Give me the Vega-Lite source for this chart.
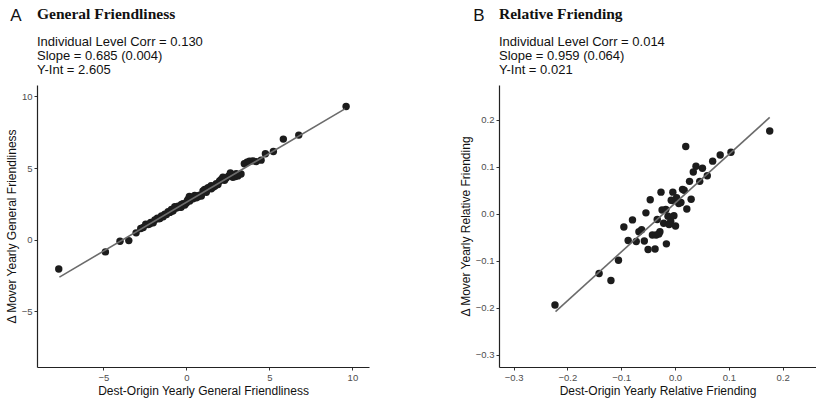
{
  "$schema": "https://vega.github.io/schema/vega-lite/v6.json",
  "padding": {"left": 5, "right": 0, "top": 6, "bottom": 2},
  "background": "white",
  "config": {
    "font": "Liberation Sans",
    "view": {"stroke": null},
    "concat": {"spacing": 90},
    "axis": {
      "grid": false,
      "domainColor": "#222222",
      "domainWidth": 1.2,
      "tickColor": "#333333",
      "tickSize": 3,
      "labelColor": "#4d4d4d",
      "labelFontSize": 9.5,
      "labelPadding": 2,
      "titleFontSize": 12,
      "titleFontWeight": "normal",
      "titleColor": "#111111"
    }
  },
  "datasets": {
    "gf": [
      {"x": -7.69, "y": -2.05}, {"x": -4.88, "y": -0.86}, {"x": -4.0, "y": -0.12}, {"x": -3.47, "y": -0.07},
      {"x": -3.03, "y": 0.47}, {"x": -2.75, "y": 0.78}, {"x": -2.6, "y": 0.85}, {"x": -2.45, "y": 1.08},
      {"x": -2.3, "y": 1.05}, {"x": -2.2, "y": 1.1}, {"x": -2.15, "y": 1.2}, {"x": -2.0, "y": 1.18},
      {"x": -1.9, "y": 1.38}, {"x": -1.75, "y": 1.5}, {"x": -1.65, "y": 1.45}, {"x": -1.6, "y": 1.48},
      {"x": -1.5, "y": 1.65}, {"x": -1.4, "y": 1.6}, {"x": -1.3, "y": 1.78}, {"x": -1.2, "y": 1.75},
      {"x": -1.1, "y": 1.95}, {"x": -1.0, "y": 1.9}, {"x": -0.9, "y": 2.1}, {"x": -0.85, "y": 2.0},
      {"x": -0.8, "y": 2.02}, {"x": -0.7, "y": 2.3}, {"x": -0.6, "y": 2.2}, {"x": -0.5, "y": 2.33},
      {"x": -0.4, "y": 2.28}, {"x": -0.32, "y": 2.26}, {"x": -0.3, "y": 2.45}, {"x": -0.2, "y": 2.5},
      {"x": -0.1, "y": 2.42}, {"x": 0.0, "y": 2.55}, {"x": 0.05, "y": 2.7}, {"x": 0.1, "y": 2.8},
      {"x": 0.18, "y": 3.02}, {"x": 0.2, "y": 2.7}, {"x": 0.3, "y": 2.95}, {"x": 0.4, "y": 2.85},
      {"x": 0.5, "y": 3.08}, {"x": 0.6, "y": 2.92}, {"x": 0.65, "y": 3.05}, {"x": 0.7, "y": 3.0},
      {"x": 0.8, "y": 3.1}, {"x": 0.9, "y": 3.05}, {"x": 1.0, "y": 3.4}, {"x": 1.1, "y": 3.5},
      {"x": 1.15, "y": 3.45}, {"x": 1.2, "y": 3.3}, {"x": 1.3, "y": 3.62}, {"x": 1.49, "y": 3.77},
      {"x": 1.5, "y": 3.55}, {"x": 1.6, "y": 3.65}, {"x": 1.7, "y": 3.72}, {"x": 1.75, "y": 3.8},
      {"x": 1.8, "y": 3.9}, {"x": 1.9, "y": 3.85}, {"x": 2.0, "y": 4.1}, {"x": 2.1, "y": 4.2},
      {"x": 2.2, "y": 4.35}, {"x": 2.25, "y": 4.2}, {"x": 2.3, "y": 4.15}, {"x": 2.4, "y": 4.3},
      {"x": 2.55, "y": 4.45}, {"x": 2.65, "y": 4.65}, {"x": 2.8, "y": 4.35}, {"x": 2.95, "y": 4.4},
      {"x": 3.0, "y": 4.6}, {"x": 3.1, "y": 4.45}, {"x": 3.29, "y": 4.58}, {"x": 3.49, "y": 5.3},
      {"x": 3.65, "y": 5.4}, {"x": 3.8, "y": 5.47}, {"x": 4.0, "y": 5.5}, {"x": 4.2, "y": 5.45},
      {"x": 4.5, "y": 5.55}, {"x": 4.76, "y": 6.0}, {"x": 5.24, "y": 6.16}, {"x": 5.84, "y": 7.02},
      {"x": 6.77, "y": 7.3}, {"x": 9.62, "y": 9.3}
    ],
    "gfLine": [{"x": -7.65, "y": -2.62}, {"x": 9.55, "y": 9.13}],
    "rf": [
      {"x": -0.223, "y": -0.194}, {"x": -0.141, "y": -0.127}, {"x": -0.119, "y": -0.142}, {"x": -0.105, "y": -0.099},
      {"x": -0.095, "y": -0.028}, {"x": -0.087, "y": -0.057}, {"x": -0.079, "y": -0.013}, {"x": -0.072, "y": -0.059},
      {"x": -0.067, "y": -0.038}, {"x": -0.062, "y": -0.034}, {"x": -0.057, "y": -0.058}, {"x": -0.054, "y": 0.002},
      {"x": -0.05, "y": -0.076}, {"x": -0.046, "y": 0.03}, {"x": -0.042, "y": -0.045}, {"x": -0.037, "y": -0.075},
      {"x": -0.035, "y": -0.045}, {"x": -0.033, "y": -0.012}, {"x": -0.028, "y": -0.038}, {"x": -0.026, "y": 0.046},
      {"x": -0.024, "y": 0.008}, {"x": -0.021, "y": -0.02}, {"x": -0.017, "y": 0.009}, {"x": -0.016, "y": -0.064},
      {"x": -0.013, "y": -0.005}, {"x": -0.008, "y": -0.016}, {"x": -0.005, "y": 0.028}, {"x": -0.004, "y": 0.046},
      {"x": -0.002, "y": -0.004}, {"x": 0.001, "y": -0.026}, {"x": 0.003, "y": 0.034}, {"x": 0.007, "y": 0.022},
      {"x": 0.011, "y": 0.024}, {"x": 0.014, "y": 0.052}, {"x": 0.017, "y": 0.05}, {"x": 0.02, "y": 0.143},
      {"x": 0.022, "y": 0.01}, {"x": 0.027, "y": 0.069}, {"x": 0.03, "y": 0.031}, {"x": 0.034, "y": 0.089},
      {"x": 0.039, "y": 0.101}, {"x": 0.046, "y": 0.069}, {"x": 0.051, "y": 0.097}, {"x": 0.06, "y": 0.081},
      {"x": 0.07, "y": 0.112}, {"x": 0.084, "y": 0.125}, {"x": 0.104, "y": 0.131}, {"x": 0.176, "y": 0.176},
      {"x": -0.011, "y": -0.023}, {"x": -0.03, "y": -0.043}, {"x": -0.007, "y": 0.029}
    ],
    "rfLine": [{"x": -0.222, "y": -0.208}, {"x": 0.176, "y": 0.205}]
  },
  "hconcat": [
    {
      "title": {"text": "A", "anchor": "start", "font": "Liberation Sans", "fontSize": 17, "fontWeight": "normal", "color": "#111111", "offset": -18, "dx": 5},
      "vconcat": [
        {
          "width": 332,
          "height": 282,
          "title": {
            "text": "General Friendliness",
            "subtitle": ["Individual Level Corr = 0.130", "Slope = 0.685 (0.004)", "Y-Int = 2.605"],
            "anchor": "start",
            "frame": "group",
            "font": "Liberation Serif",
            "fontSize": 15.5,
            "fontWeight": "bold",
            "color": "#111111",
            "subtitleFont": "Liberation Sans",
            "subtitleFontSize": 13,
            "subtitleColor": "#111111",
            "subtitleLineHeight": 14,
            "subtitlePadding": 14,
            "offset": 8
          },
          "encoding": {
            "x": {"field": "x", "type": "quantitative", "scale": {"domain": [-9, 11], "nice": false, "zero": false},
                  "axis": {"values": [-5, 0, 5, 10], "title": "Dest-Origin Yearly General Friendliness", "titlePadding": 4}},
            "y": {"field": "y", "type": "quantitative", "scale": {"domain": [-8.9, 10.8], "nice": false, "zero": false},
                  "axis": {"values": [-5, 0, 5, 10], "title": "Δ Mover Yearly General Friendliness", "titlePadding": 3}}
          },
          "layer": [
            {"data": {"name": "gf"}, "mark": {"type": "circle", "size": 55, "color": "#1c1c1c", "opacity": 1}},
            {"data": {"name": "gfLine"}, "mark": {"type": "line", "color": "#6b6b6b", "strokeWidth": 1.6}}
          ]
        }
      ]
    },
    {
      "title": {"text": "B", "anchor": "start", "font": "Liberation Sans", "fontSize": 17, "fontWeight": "normal", "color": "#111111", "offset": -18, "dx": 14},
      "vconcat": [
        {
          "width": 317,
          "height": 282,
          "title": {
            "text": "Relative Friending",
            "subtitle": ["Individual Level Corr = 0.014", "Slope = 0.959 (0.064)", "Y-Int = 0.021"],
            "anchor": "start",
            "frame": "group",
            "font": "Liberation Serif",
            "fontSize": 15.5,
            "fontWeight": "bold",
            "color": "#111111",
            "subtitleFont": "Liberation Sans",
            "subtitleFontSize": 13,
            "subtitleColor": "#111111",
            "subtitleLineHeight": 14,
            "subtitlePadding": 14,
            "offset": 8
          },
          "encoding": {
            "x": {"field": "x", "type": "quantitative", "scale": {"domain": [-0.327, 0.262], "nice": false, "zero": false},
                  "axis": {"values": [-0.3, -0.2, -0.1, 0, 0.1, 0.2], "format": ".1f", "title": "Dest-Origin Yearly Relative Friending", "titlePadding": 4}},
            "y": {"field": "y", "type": "quantitative", "scale": {"domain": [-0.326, 0.274], "nice": false, "zero": false},
                  "axis": {"values": [-0.3, -0.2, -0.1, 0, 0.1, 0.2], "format": ".1f", "title": "Δ Mover Yearly Relative Friending", "titlePadding": 3}}
          },
          "layer": [
            {"data": {"name": "rf"}, "mark": {"type": "circle", "size": 55, "color": "#1c1c1c", "opacity": 1}},
            {"data": {"name": "rfLine"}, "mark": {"type": "line", "color": "#6b6b6b", "strokeWidth": 1.6}}
          ]
        }
      ]
    }
  ]
}
